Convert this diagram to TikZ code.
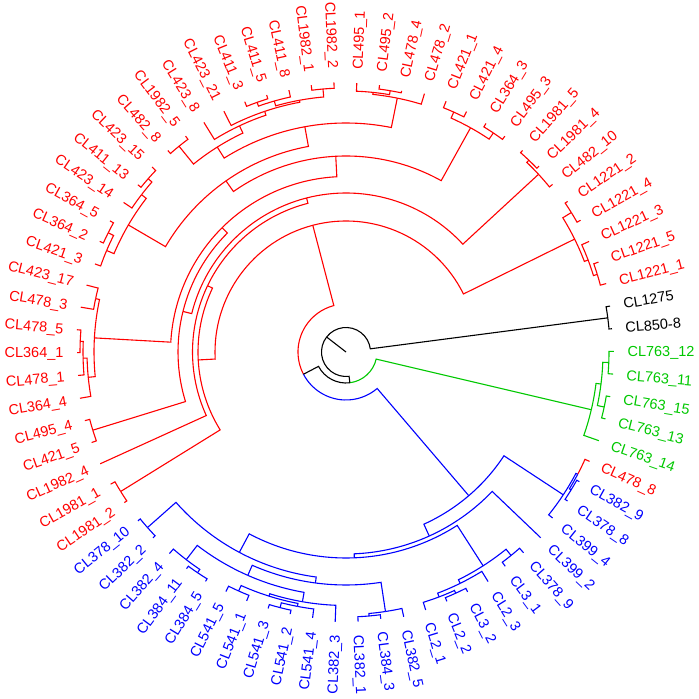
\documentclass[tikz,border=0pt]{standalone}
\usepackage{fontspec}
\setmainfont{Liberation Sans}
\definecolor{tred}{RGB}{255,0,0}
\definecolor{tblue}{RGB}{0,0,255}
\definecolor{tgreen}{RGB}{0,200,0}
\newcommand\lf[3]{%
 \pgfmathsetmacro\tmpa{5+#2*4.864865}%
 \expandafter\xdef\csname Aang#1\endcsname{\tmpa}%
 \expandafter\xdef\csname Rrad#1\endcsname{#3}%
 \coordinate (#1) at (\tmpa:#3);}
\newcommand\nd[6]{%
 \edef\ca{\csname Aang#3\endcsname}\edef\cb{\csname Aang#5\endcsname}%
 \pgfmathsetmacro\tmpa{(\ca+\cb)/2}%
 \expandafter\xdef\csname Aang#1\endcsname{\tmpa}%
 \expandafter\xdef\csname Rrad#1\endcsname{#2}%
 \coordinate (#1) at (\tmpa:#2);
 \draw[#4] (#1) arc[start angle=\tmpa, end angle=\ca, radius=#2] -- (#3);
 \draw[#6] (#1) arc[start angle=\tmpa, end angle=\cb, radius=#2] -- (#5);}
\newcommand\lab[3]{%
 \edef\la{\csname Aang#1\endcsname}%
 \pgfmathsetmacro\lr{\csname Rrad#1\endcsname+13}%
 \pgfmathtruncatemacro\flip{(\la>90)&&(\la<270)}%
 \ifnum\flip=1
  \pgfmathsetmacro\rot{\la-180}%
  \node[lbl,text=#3,rotate=\rot,anchor=east] (t#1) at (\la:\lr) {#2};
 \else
  \node[lbl,text=#3,rotate=\la,anchor=west] (t#1) at (\la:\lr) {#2};
 \fi}
\begin{document}
\begin{tikzpicture}[x=1pt,y=1pt,line width=1.1pt,
  lbl/.style={inner sep=0pt,font=\fontsize{14.5}{17}\selectfont,text height=10.4pt,text depth=0pt}]
\useasboundingbox (0,0) rectangle (699,699);
\begin{scope}[shift={(346,347)}]
% leaves
\lf{L0}{0}{267}\lf{L1}{1}{268}\lf{L2}{2}{269}\lf{L3}{3}{268}\lf{L4}{4}{267}
\lf{L5}{5}{269}\lf{L6}{6}{268}\lf{L7}{7}{266}\lf{L8}{8}{268}\lf{L9}{9}{268}
\lf{L10}{10}{268}\lf{L11}{11}{268}\lf{L12}{12}{269}\lf{L13}{13}{270}\lf{L14}{14}{270}
\lf{L15}{15}{267}\lf{L16}{16}{269}\lf{L17}{17}{269}\lf{L18}{18}{270}\lf{L19}{19}{269}
\lf{L20}{20}{268}\lf{L21}{21}{269}\lf{L22}{22}{270}\lf{L23}{23}{270}\lf{L24}{24}{270}
\lf{L25}{25}{269}\lf{L26}{26}{269}\lf{L27}{27}{268}\lf{L28}{28}{267}\lf{L29}{29}{268}
\lf{L30}{30}{270}\lf{L31}{31}{270}\lf{L32}{32}{266}\lf{L33}{33}{268}\lf{L34}{34}{269}
\lf{L35}{35}{270}\lf{L36}{36}{269}\lf{L37}{37}{269}\lf{L38}{38}{270}\lf{L39}{39}{270}
\lf{L40}{40}{270}\lf{L41}{41}{270}\lf{L42}{42}{270}\lf{L43}{43}{268}\lf{L44}{44}{268}
\lf{L45}{45}{268}\lf{L46}{46}{268}\lf{L47}{47}{269}\lf{L48}{48}{269}\lf{L49}{49}{268}
\lf{L50}{50}{268}\lf{L51}{51}{268}\lf{L52}{52}{268}\lf{L53}{53}{268}\lf{L54}{54}{270}
\lf{L55}{55}{270}\lf{L56}{56}{269}\lf{L57}{57}{271}\lf{L58}{58}{270}\lf{L59}{59}{269}
\lf{L60}{60}{269}\lf{L61}{61}{270}\lf{L62}{62}{267}\lf{L63}{63}{268}\lf{L64}{64}{269}
\lf{L65}{65}{265}\lf{L66}{66}{267}\lf{L67}{67}{267}\lf{L68}{68}{267}\lf{L69}{69}{268}
\lf{L70}{70}{268}\lf{L71}{71}{268}\lf{L72}{72}{268}\lf{L73}{73}{268}
% green
\nd{ng2}{263}{L72}{tgreen}{L73}{tgreen}
\nd{ng3}{264}{L70}{tgreen}{L71}{tgreen}
\nd{ng1}{257}{ng3}{tgreen}{ng2}{tgreen}
\nd{ng0}{252}{L69}{tgreen}{ng1}{tgreen}
% black
\nd{nk0}{264}{L0}{black}{L1}{black}
% red
\nd{nc51}{263}{L3}{tred}{L2}{tred}
\nd{nc13}{259}{L4}{tred}{nc51}{tred}
\nd{nc12}{265}{L5}{tred}{L6}{tred}
\nd{nc1221}{255}{nc13}{tred}{nc12}{tred}
\nd{nc45}{265}{L8}{tred}{L9}{tred}
\nd{nc1981}{262}{L7}{tred}{nc45}{tred}
\nd{nn4a}{264}{L10}{tred}{L11}{tred}
\nd{nn4b}{263}{L12}{tred}{L13}{tred}
\nd{nn4}{256.5}{nn4a}{tred}{nn4b}{tred}
\nd{nq2}{265}{L15}{tred}{L16}{tred}
\nd{nq1}{261}{nq2}{tred}{L17}{tred}
\nd{nq}{259}{L14}{tred}{nq1}{tred}
\nd{np6}{264}{L18}{tred}{L19}{tred}
\nd{np7b}{265}{L21}{tred}{L22}{tred}
\nd{np7}{261}{L20}{tred}{np7b}{tred}
\nd{np5}{256}{np6}{tred}{np7}{tred}
\nd{np4}{254}{np5}{tred}{L23}{tred}
\nd{np3}{250}{np4}{tred}{L24}{tred}
\nd{np2b}{265}{L25}{tred}{L26}{tred}
\nd{np2}{242}{np3}{tred}{np2b}{tred}
\nd{np}{229}{nq}{tred}{np2}{tred}
\nd{nla1}{263}{L27}{tred}{L28}{tred}
\nd{nla}{258}{nla1}{tred}{L29}{tred}
\nd{nlb1}{266}{L30}{tred}{L31}{tred}
\nd{nlb}{260}{nlb1}{tred}{L32}{tred}
\nd{nl6}{252}{nla}{tred}{nlb}{tred}
\nd{nm}{209}{np}{tred}{nl6}{tred}
\nd{nk}{196}{nn4}{tred}{nm}{tred}
\nd{nt1}{256}{L33}{tred}{L34}{tred}
\nd{nt4}{266}{L35}{tred}{L36}{tred}
\nd{nt3}{263}{nt4}{tred}{L37}{tred}
\nd{nt2}{259}{nt3}{tred}{L38}{tred}
\nd{nt}{252}{nt1}{tred}{nt2}{tred}
\nd{nj}{175.5}{nk}{tred}{nt}{tred}
\nd{npr}{265}{L39}{tred}{L40}{tred}
\nd{nx}{168}{nj}{tred}{npr}{tred}
\nd{nh}{159}{nc1981}{tred}{nx}{tred}
\nd{ng}{153.5}{nh}{tred}{L41}{tred}
\nd{ncp}{265}{L42}{tred}{L43}{tred}
\nd{nrl}{148}{ng}{tred}{ncp}{tred}
\nd{nr}{131}{nc1221}{tred}{nrl}{tred}
% blue
\nd{nbr3}{264}{L66}{tblue}{L67}{tblue}
\nd{nbr2}{262}{nbr3}{tblue}{L68}{tred}
\nd{nbr}{260}{L65}{tblue}{nbr2}{tblue}
\nd{nb3a}{262}{L62}{tblue}{L63}{tblue}
\nd{nb3d}{265}{L59}{tblue}{L60}{tblue}
\nd{nb3c}{262}{L58}{tblue}{nb3d}{tblue}
\nd{nb3b}{258}{nb3c}{tblue}{L61}{tblue}
\nd{nb3}{254}{nb3b}{tblue}{nb3a}{tblue}
\nd{np45}{265}{L44}{tblue}{L45}{tblue}
\nd{nb6b}{266}{L47}{tblue}{L48}{tblue}
\nd{nb6}{262}{L46}{tblue}{nb6b}{tblue}
\nd{nc541a}{262}{L49}{tblue}{L50}{tblue}
\nd{nc541x}{264}{L51}{tblue}{L52}{tblue}
\nd{nc541b}{259}{nc541x}{tblue}{L53}{tblue}
\nd{ny1}{256}{nc541a}{tblue}{nc541b}{tblue}
\nd{ny}{253.5}{ny1}{tblue}{L54}{tblue}
\nd{nxb}{244}{nb6}{tblue}{ny}{tblue}
\nd{nc382a}{265}{L55}{tblue}{L56}{tblue}
\nd{nc382b}{262.5}{nc382a}{tblue}{L57}{tblue}
\nd{nb5}{233}{nxb}{tblue}{nc382b}{tblue}
\nd{nb4}{227}{np45}{tblue}{nb5}{tblue}
\nd{nbl2}{206}{nb4}{tblue}{nb3}{tblue}
\nd{nbl}{202}{nbl2}{tblue}{L64}{tblue}
\nd{nb}{189}{nbl}{tblue}{nbr}{tblue}
% root part
\nd{na}{48}{nr}{tred}{nb}{tblue}
\nd{nn2}{31}{na}{black}{ng0}{tgreen}
\nd{nn1}{24.5}{nk0}{black}{nn2}{black}
\coordinate (root) at (0,0);
\draw (root) -- (nn1);
% labels
\lab{L0}{CL850-8}{black}
\lab{L1}{CL1275}{black}
\lab{L2}{CL1221\_1}{tred}
\lab{L3}{CL1221\_5}{tred}
\lab{L4}{CL1221\_3}{tred}
\lab{L5}{CL1221\_4}{tred}
\lab{L6}{CL1221\_2}{tred}
\lab{L7}{CL482\_10}{tred}
\lab{L8}{CL1981\_4}{tred}
\lab{L9}{CL1981\_5}{tred}
\lab{L10}{CL495\_3}{tred}
\lab{L11}{CL364\_3}{tred}
\lab{L12}{CL421\_4}{tred}
\lab{L13}{CL421\_1}{tred}
\lab{L14}{CL478\_2}{tred}
\lab{L15}{CL478\_4}{tred}
\lab{L16}{CL495\_2}{tred}
\lab{L17}{CL495\_1}{tred}
\lab{L18}{CL1982\_2}{tred}
\lab{L19}{CL1982\_1}{tred}
\lab{L20}{CL411\_8}{tred}
\lab{L21}{CL411\_5}{tred}
\lab{L22}{CL411\_3}{tred}
\lab{L23}{CL423\_21}{tred}
\lab{L24}{CL423\_8}{tred}
\lab{L25}{CL1982\_5}{tred}
\lab{L26}{CL482\_8}{tred}
\lab{L27}{CL423\_15}{tred}
\lab{L28}{CL411\_13}{tred}
\lab{L29}{CL423\_14}{tred}
\lab{L30}{CL364\_5}{tred}
\lab{L31}{CL364\_2}{tred}
\lab{L32}{CL421\_3}{tred}
\lab{L33}{CL423\_17}{tred}
\lab{L34}{CL478\_3}{tred}
\lab{L35}{CL478\_5}{tred}
\lab{L36}{CL364\_1}{tred}
\lab{L37}{CL478\_1}{tred}
\lab{L38}{CL364\_4}{tred}
\lab{L39}{CL495\_4}{tred}
\lab{L40}{CL421\_5}{tred}
\lab{L41}{CL1982\_4}{tred}
\lab{L42}{CL1981\_1}{tred}
\lab{L43}{CL1981\_2}{tred}
\lab{L44}{CL378\_10}{tblue}
\lab{L45}{CL382\_2}{tblue}
\lab{L46}{CL382\_4}{tblue}
\lab{L47}{CL384\_11}{tblue}
\lab{L48}{CL384\_5}{tblue}
\lab{L49}{CL541\_5}{tblue}
\lab{L50}{CL541\_1}{tblue}
\lab{L51}{CL541\_3}{tblue}
\lab{L52}{CL541\_2}{tblue}
\lab{L53}{CL541\_4}{tblue}
\lab{L54}{CL382\_3}{tblue}
\lab{L55}{CL382\_1}{tblue}
\lab{L56}{CL384\_3}{tblue}
\lab{L57}{CL382\_5}{tblue}
\lab{L58}{CL2\_1}{tblue}
\lab{L59}{CL2\_2}{tblue}
\lab{L60}{CL3\_2}{tblue}
\lab{L61}{CL2\_3}{tblue}
\lab{L62}{CL3\_1}{tblue}
\lab{L63}{CL378\_9}{tblue}
\lab{L64}{CL399\_2}{tblue}
\lab{L65}{CL399\_4}{tblue}
\lab{L66}{CL378\_8}{tblue}
\lab{L67}{CL382\_9}{tblue}
\lab{L68}{CL478\_8}{tred}
\lab{L69}{CL763\_14}{tgreen}
\lab{L70}{CL763\_13}{tgreen}
\lab{L71}{CL763\_15}{tgreen}
\lab{L72}{CL763\_11}{tgreen}
\lab{L73}{CL763\_12}{tgreen}
\end{scope}
\end{tikzpicture}
\end{document}
